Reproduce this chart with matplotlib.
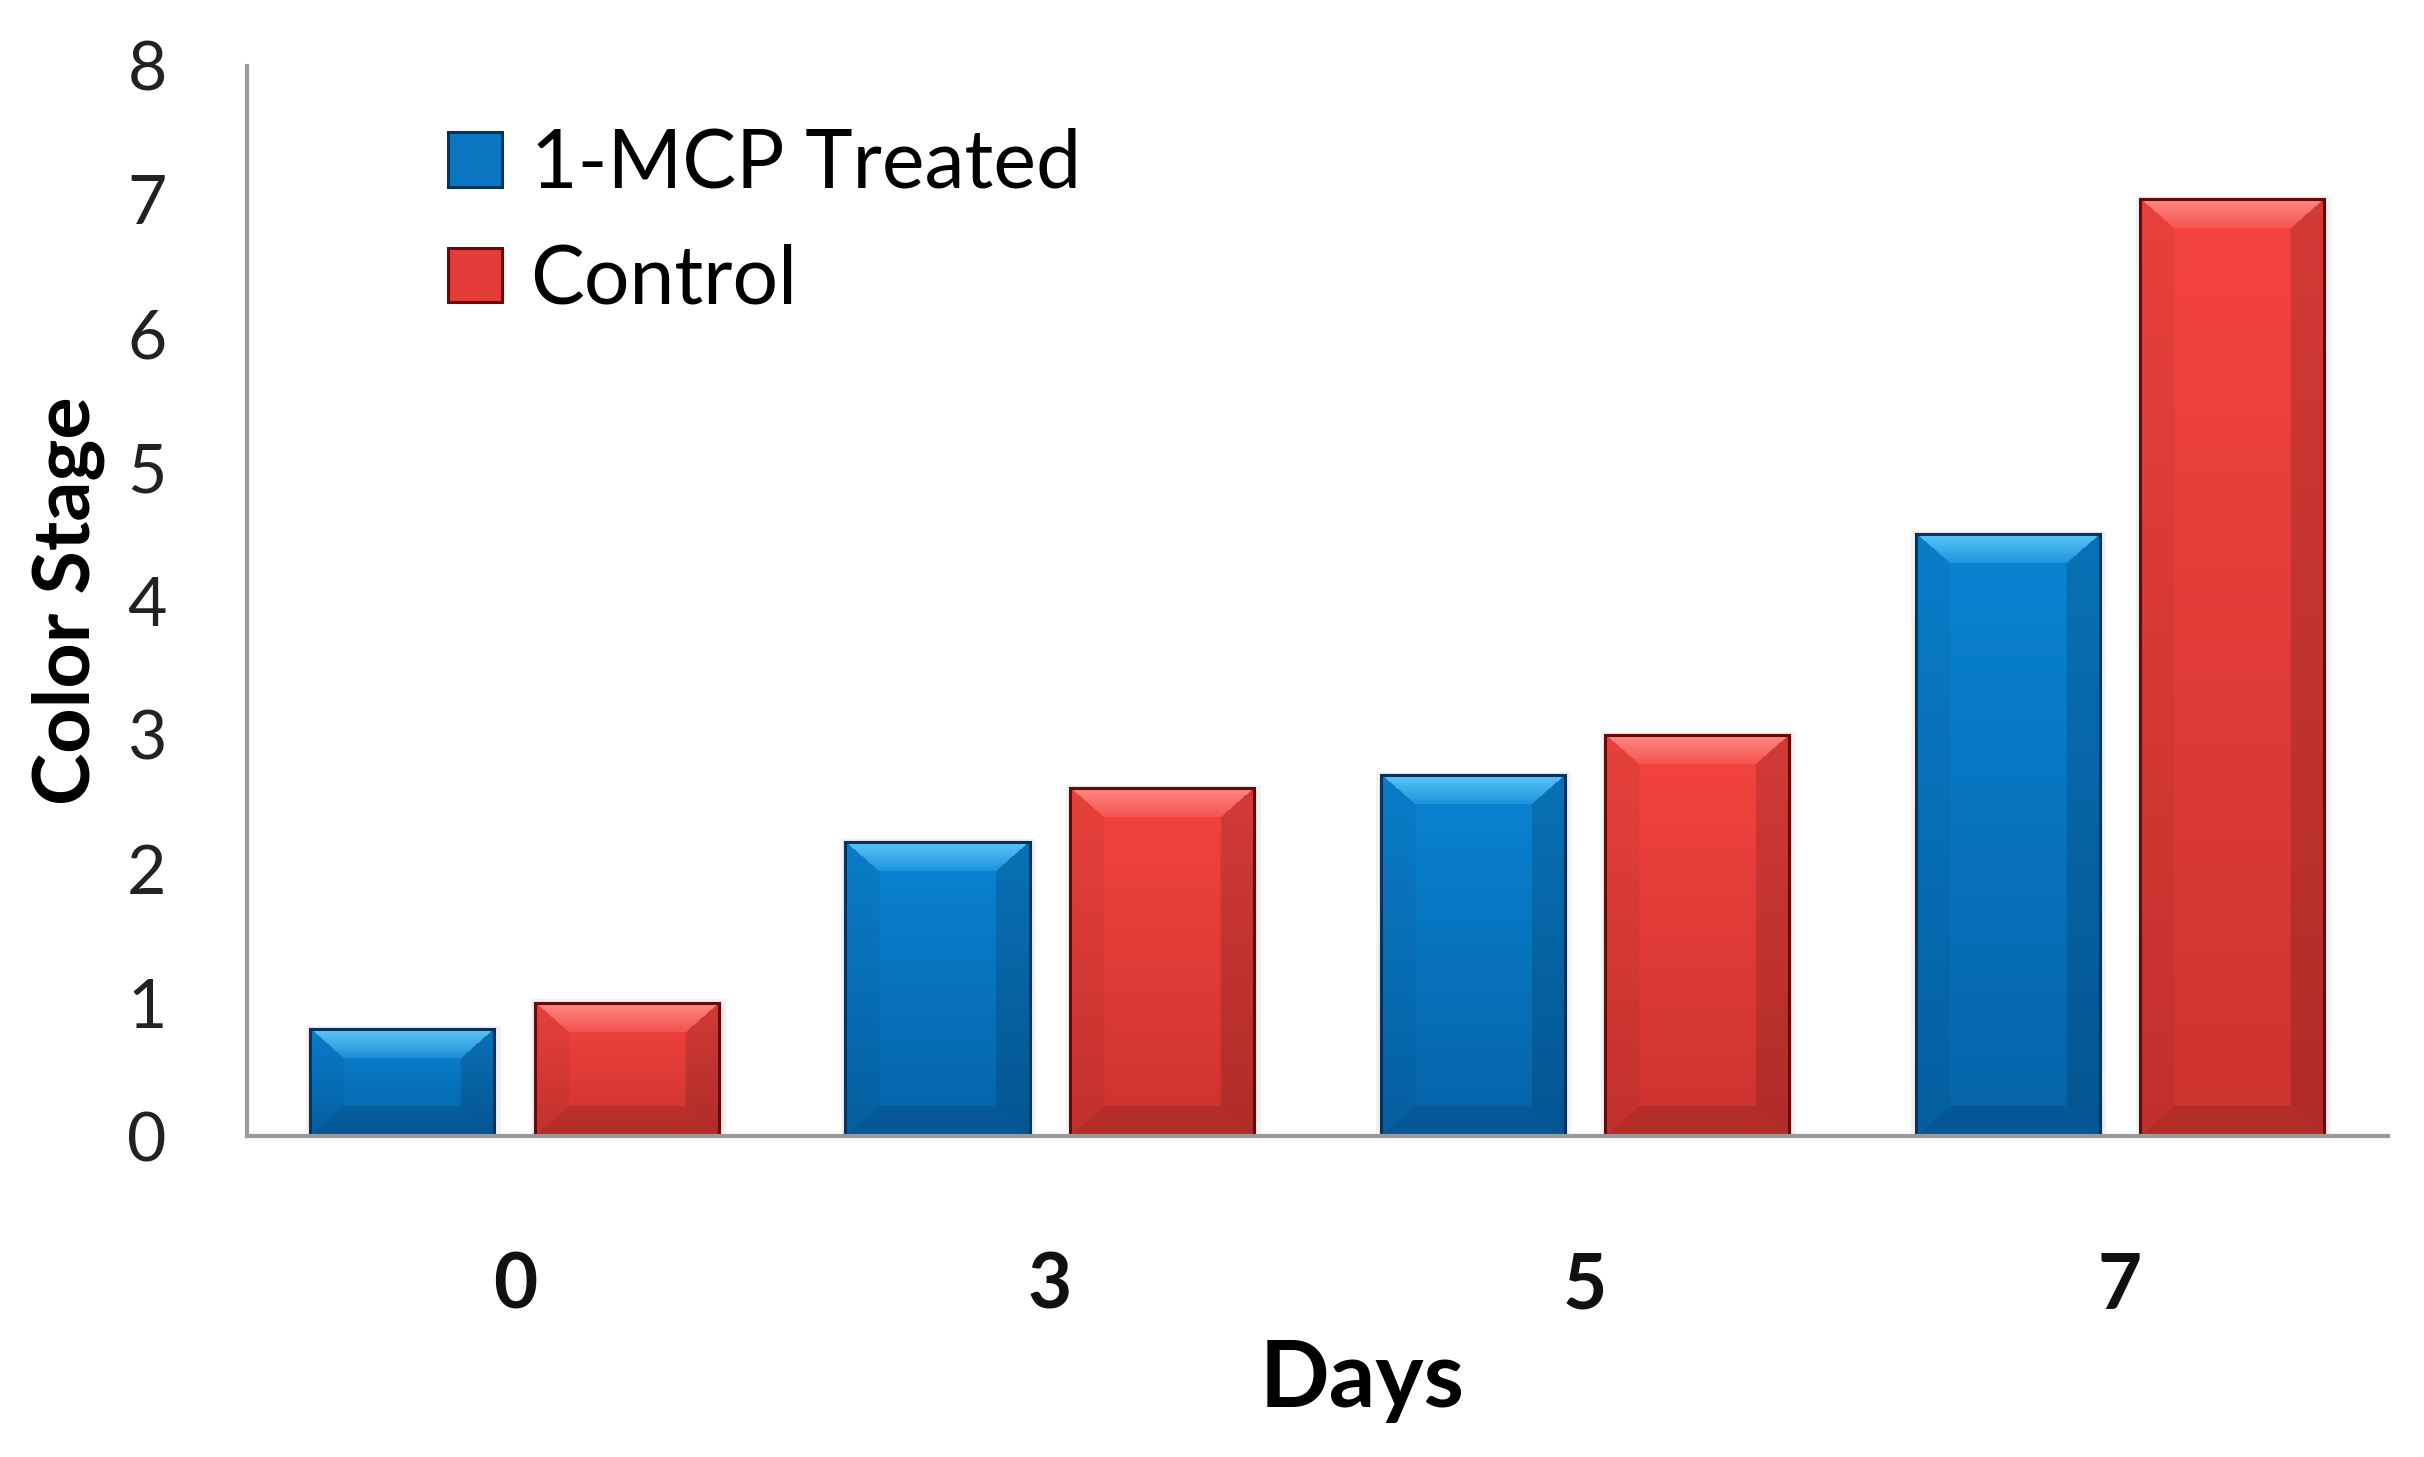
import matplotlib
matplotlib.use("Agg")
import matplotlib.pyplot as plt
from matplotlib.patches import Rectangle
import matplotlib.colors as mcolors
import numpy as np

days = ["0", "3", "5", "7"]
treated = [0.8, 2.2, 2.7, 4.5]
control = [1.0, 2.6, 3.0, 7.0]
series_names = ["1-MCP Treated", "Control"]
yticks = [0, 1, 2, 3, 4, 5, 6, 7, 8]

plt.rcParams['font.family'] = ['Lato', 'DejaVu Sans']

W, H, DPI = 24.24, 14.57, 100
fig = plt.figure(figsize=(W, H), dpi=DPI)
left, right, bottom, top = 0.102, 0.985, 0.220, 0.955
ax = fig.add_axes([left, bottom, right - left, top - bottom])

x = np.arange(len(days))
bw = 0.344
off = 0.21
ax.set_xlim(-0.5, len(days) - 0.5)
ax.set_ylim(0, 8)

styles = {
    "1-MCP Treated": dict(top="#0a84d4", bot="#0563a8", light="#5cc8fa", dark="#03345f", legend="#0a75c0"),
    "Control": dict(top="#f5443f", bot="#cc332f", light="#ff8a86", dark="#650a08", legend="#e43c39"),
}

def rgb(c):
    return np.array(mcolors.to_rgb(c))

def bar_image(st, nx, ny, bpx=34, bpy=30):
    jj, ii = np.meshgrid(np.arange(nx) + 0.5, np.arange(ny) + 0.5)
    dt = ii / bpy
    db = (ny - ii) / bpy
    dl = jj / bpx
    dr = (nx - jj) / bpx
    stack = np.stack([dt, db, dl, dr])
    reg = np.argmin(stack, axis=0)
    mind = np.min(stack, axis=0)
    t = ii / max(ny - 1, 1)
    ctop, cbot = rgb(st["top"]), rgb(st["bot"])
    body = ctop[None, None, :] * (1 - t[..., None]) + cbot[None, None, :] * t[..., None]
    img = body.copy()
    inb = mind < 1
    light = rgb(st["light"])
    m = inb & (reg == 0)
    f = np.clip(dt, 0, 1)[..., None]
    topcol = light[None, None, :] * (1 - 0.75 * f) + body * 0.75 * f
    img[m] = topcol[m]
    m = inb & (reg == 1)
    img[m] = body[m] * 0.88
    m = inb & (reg == 2)
    img[m] = np.clip(body[m] * 0.95, 0, 1)
    m = inb & (reg == 3)
    img[m] = body[m] * 0.86
    img[:3, :, :] = img[:3, :, :] * 0.9
    return img

def draw_bars(xs, vals, name):
    st = styles[name]
    bars = ax.bar(xs, vals, bw, color=st["legend"], edgecolor=st["dark"], linewidth=2.2, zorder=3, label=name)
    for b in bars:
        x0, y0 = b.get_x(), b.get_y()
        w, h = b.get_width(), b.get_height()
        p0 = ax.transData.transform((x0, y0))
        p1 = ax.transData.transform((x0 + w, y0 + h))
        nx = max(int(round(p1[0] - p0[0])), 2)
        ny = max(int(round(p1[1] - p0[1])), 2)
        img = bar_image(st, nx, ny)
        ax.add_patch(Rectangle((x0 - 0.008, y0), w + 0.02, h + 0.025, facecolor="#000000", alpha=0.05,
                               edgecolor="none", zorder=2))
        im = ax.imshow(img, extent=[x0, x0 + w, y0, y0 + h], aspect="auto", zorder=3.2,
                       interpolation="bilinear", origin="upper")
        im.set_clip_path(b)
        ax.add_patch(Rectangle((x0, y0), w, h, facecolor="none", edgecolor=st["dark"],
                               linewidth=2.2, zorder=3.8))
    return bars

b1 = draw_bars(x - off, treated, series_names[0])
b2 = draw_bars(x + off, control, series_names[1])
ax.set_xlim(-0.5, len(days) - 0.5)
ax.set_ylim(0, 8)
ax.set_aspect("auto")

for s in ["top", "right"]:
    ax.spines[s].set_visible(False)
for s in ["left", "bottom"]:
    ax.spines[s].set_color("#9a9a9a")
    ax.spines[s].set_linewidth(3)
    ax.spines[s].set_zorder(5)

ax.set_yticks(yticks)
ax.set_yticklabels([str(v) for v in yticks], fontsize=49, color="#222222")
ax.tick_params(axis="y", length=0, pad=58)
ax.set_xticks(x)
ax.set_xticklabels(days, fontsize=55, fontweight="bold", color="#111111")
ax.tick_params(axis="x", length=0, pad=83)

ax.set_xlabel("Days", fontsize=66, fontweight="bold")
ax.xaxis.set_label_coords(0.521, -0.228)
ax.xaxis.label.set_va("center")
ax.set_ylabel("Color Stage", fontsize=57, fontweight="bold")
ax.yaxis.set_label_coords(-0.0835, 0.5)
ax.yaxis.label.set_va("center")

leg = ax.legend(handles=[b1, b2], labels=series_names, loc="upper left",
                bbox_to_anchor=(0.094, 0.942), frameon=False, fontsize=58,
                borderpad=0, borderaxespad=0,
                handlelength=0.66, handleheight=0.66, handletextpad=0.36, labelspacing=0.52)

fig.savefig("out.png", dpi=DPI, facecolor="white")
